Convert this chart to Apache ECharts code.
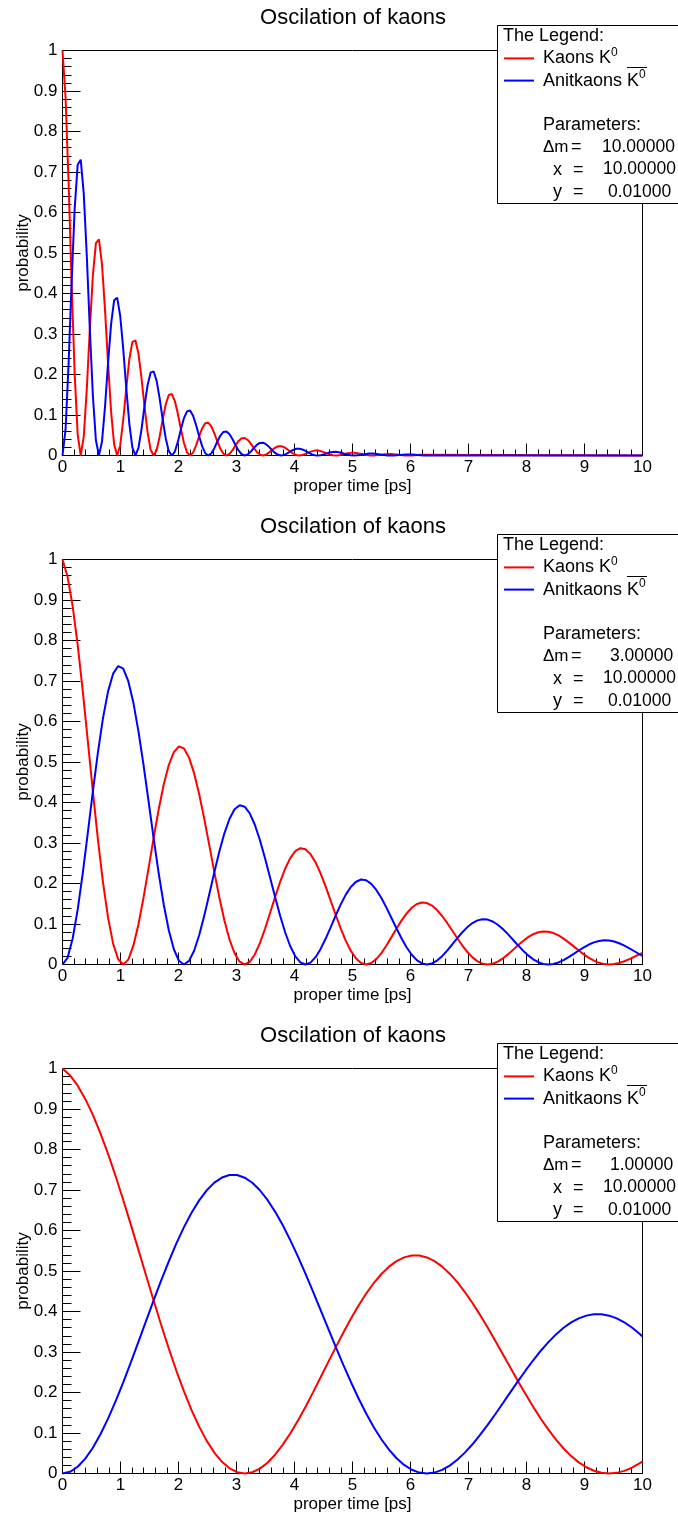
<!DOCTYPE html>
<html>
<head>
<meta charset="utf-8">
<script src="https://cdn.jsdelivr.net/npm/echarts@6/dist/echarts.min.js"></script>
<style>
    html, body { margin: 0; padding: 0; background: #fff; }
    #chart { width: 678px; height: 1513px; }
</style>
</head>
<body>
<div id="chart"></div>
<script>
// panel 1: delta m = 10
var timeA = [0, 0.0524, 0.1047, 0.1571, 0.2094, 0.2618, 0.3142, 0.3665, 0.4189, 0.4712, 0.5236, 0.5760,
    0.6283, 0.6807, 0.7330, 0.7854, 0.8378, 0.8901, 0.9425, 0.9948, 1.0472, 1.0996, 1.1519, 1.2043,
    1.2566, 1.3090, 1.3614, 1.4137, 1.4661, 1.5184, 1.5708, 1.6232, 1.6755, 1.7279, 1.7802, 1.8326,
    1.8850, 1.9373, 1.9897, 2.0420, 2.0944, 2.1468, 2.1991, 2.2515, 2.3038, 2.3562, 2.4086, 2.4609,
    2.5133, 2.5656, 2.6180, 2.6704, 2.7227, 2.7751, 2.8274, 2.8798, 2.9322, 2.9845, 3.0369, 3.0892,
    3.1416, 3.1940, 3.2463, 3.2987, 3.3510, 3.4034, 3.4558, 3.5081, 3.5605, 3.6128, 3.6652, 3.7176,
    3.7699, 3.8223, 3.8746, 3.9270, 3.9794, 4.0317, 4.0841, 4.1364, 4.1888, 4.2412, 4.2935, 4.3459,
    4.3982, 4.4506, 4.5029, 4.5553, 4.6077, 4.6600, 4.7124, 4.7647, 4.8171, 4.8695, 4.9218, 4.9742,
    5.0265, 5.0789, 5.1313, 5.1836, 5.2360, 5.2883, 5.3407, 5.3931, 5.4454, 5.4978, 5.5501, 5.6025,
    5.6549, 5.7072, 5.7596, 5.8119, 5.8643, 5.9167, 5.9690, 6.0214, 6.0737, 6.1261, 6.1785, 6.2308,
    6.2832, 10];
var kaonA = [1, 0.8854, 0.6754, 0.4273, 0.2028, 0.0516, 0, 0.0464, 0.1644, 0.3121, 0.4443, 0.5245,
    0.5335, 0.4724, 0.3603, 0.2280, 0.1082, 0.0275, 0, 0.0248, 0.0877, 0.1665, 0.2370, 0.2798,
    0.2846, 0.2520, 0.1922, 0.1216, 0.0577, 0.0147, 0, 0.0132, 0.0468, 0.0888, 0.1264, 0.1493,
    0.1518, 0.1344, 0.1026, 0.0649, 0.0308, 0.0078, 0, 0.0071, 0.0250, 0.0474, 0.0675, 0.0796,
    0.0810, 0.0717, 0.0547, 0.0346, 0.0164, 0.0042, 0, 0.0038, 0.0133, 0.0253, 0.0360, 0.0425,
    0.0432, 0.0383, 0.0292, 0.0185, 0.0088, 0.0022, 0, 0.0020, 0.0071, 0.0135, 0.0192, 0.0227,
    0.0231, 0.0204, 0.0156, 0.0099, 0.0047, 0.0012, 0, 0.0011, 0.0038, 0.0072, 0.0102, 0.0121,
    0.0123, 0.0109, 0.0083, 0.0053, 0.0025, 0.0006, 0, 0.0006, 0.0020, 0.0038, 0.0055, 0.0065,
    0.0066, 0.0058, 0.0044, 0.0028, 0.0013, 0.0003, 0, 0.0003, 0.0011, 0.0020, 0.0029, 0.0034,
    0.0035, 0.0031, 0.0024, 0.0015, 0.0007, 0.0002, 0, 0.0002, 0.0006, 0.0011, 0.0016, 0.0018,
    0.0019, 0];
var antiA = [0, 0.0636, 0.2251, 0.4273, 0.6083, 0.7181, 0.7304, 0.6467, 0.4933, 0.3121, 0.1481, 0.0377,
    0, 0.0339, 0.1201, 0.2280, 0.3245, 0.3831, 0.3897, 0.3450, 0.2632, 0.1665, 0.0790, 0.0201,
    0, 0.0181, 0.0641, 0.1216, 0.1731, 0.2044, 0.2079, 0.1841, 0.1404, 0.0888, 0.0421, 0.0107,
    0, 0.0097, 0.0342, 0.0649, 0.0924, 0.1090, 0.1109, 0.0982, 0.0749, 0.0474, 0.0225, 0.0057,
    0, 0.0051, 0.0182, 0.0346, 0.0493, 0.0582, 0.0592, 0.0524, 0.0400, 0.0253, 0.0120, 0.0031,
    0, 0.0027, 0.0097, 0.0185, 0.0263, 0.0310, 0.0316, 0.0279, 0.0213, 0.0135, 0.0064, 0.0016,
    0, 0.0015, 0.0052, 0.0099, 0.0140, 0.0166, 0.0168, 0.0149, 0.0114, 0.0072, 0.0034, 0.0009,
    0, 0.0008, 0.0028, 0.0053, 0.0075, 0.0088, 0.0090, 0.0080, 0.0061, 0.0038, 0.0018, 0.0005,
    0, 0.0004, 0.0015, 0.0028, 0.0040, 0.0047, 0.0048, 0.0042, 0.0032, 0.0020, 0.0010, 0.0002,
    0, 0.0002, 0.0008, 0.0015, 0.0021, 0.0025, 0.0026, 0.0023, 0.0017, 0.0011, 0.0005, 0.0001,
    0, 0];

// panel 2: delta m = 3
var timeB = [0, 0.0873, 0.1745, 0.2618, 0.3491, 0.4363, 0.5236, 0.6109, 0.6981, 0.7854, 0.8727, 0.9599,
    1.0472, 1.1345, 1.2217, 1.3090, 1.3963, 1.4835, 1.5708, 1.6581, 1.7453, 1.8326, 1.9199, 2.0071,
    2.0944, 2.1817, 2.2689, 2.3562, 2.4435, 2.5307, 2.6180, 2.7053, 2.7925, 2.8798, 2.9671, 3.0543,
    3.1416, 3.2289, 3.3161, 3.4034, 3.4907, 3.5779, 3.6652, 3.7525, 3.8397, 3.9270, 4.0143, 4.1015,
    4.1888, 4.2761, 4.3633, 4.4506, 4.5379, 4.6251, 4.7124, 4.7997, 4.8869, 4.9742, 5.0615, 5.1487,
    5.2360, 5.3233, 5.4105, 5.4978, 5.5851, 5.6723, 5.7596, 5.8469, 5.9341, 6.0214, 6.1087, 6.1959,
    6.2832, 6.3705, 6.4577, 6.5450, 6.6323, 6.7195, 6.8068, 6.8941, 6.9813, 7.0686, 7.1559, 7.2431,
    7.3304, 7.4176, 7.5049, 7.5922, 7.6794, 7.7667, 7.8540, 7.9412, 8.0285, 8.1158, 8.2030, 8.2903,
    8.3776, 8.4648, 8.5521, 8.6394, 8.7266, 8.8139, 8.9012, 8.9884, 9.0757, 9.1630, 9.2502, 9.3375,
    9.4248, 9.5120, 9.5993, 9.6866, 9.7738, 9.8611, 9.9484, 10];
var kaonB = [1, 0.9576, 0.8854, 0.7891, 0.6754, 0.5522, 0.4273, 0.3085, 0.2028, 0.1157, 0.0516, 0.0128,
    0, 0.0121, 0.0464, 0.0989, 0.1644, 0.2375, 0.3121, 0.3827, 0.4443, 0.4926, 0.5245, 0.5383,
    0.5335, 0.5108, 0.4724, 0.4210, 0.3603, 0.2946, 0.2280, 0.1646, 0.1082, 0.0617, 0.0275, 0.0068,
    0, 0.0065, 0.0248, 0.0528, 0.0877, 0.1267, 0.1665, 0.2042, 0.2370, 0.2628, 0.2798, 0.2872,
    0.2846, 0.2725, 0.2520, 0.2246, 0.1922, 0.1572, 0.1216, 0.0878, 0.0577, 0.0329, 0.0147, 0.0036,
    0, 0.0035, 0.0132, 0.0281, 0.0468, 0.0676, 0.0888, 0.1089, 0.1264, 0.1402, 0.1493, 0.1532,
    0.1518, 0.1454, 0.1344, 0.1198, 0.1026, 0.0838, 0.0649, 0.0468, 0.0308, 0.0176, 0.0078, 0.0019,
    0, 0.0018, 0.0071, 0.0150, 0.0250, 0.0361, 0.0474, 0.0581, 0.0675, 0.0748, 0.0796, 0.0817,
    0.0810, 0.0776, 0.0717, 0.0639, 0.0547, 0.0447, 0.0346, 0.0250, 0.0164, 0.0094, 0.0042, 0.0010,
    0, 0.0010, 0.0038, 0.0080, 0.0133, 0.0192, 0.0253, 0.0287];
var antiB = [0, 0.0166, 0.0636, 0.1354, 0.2251, 0.3251, 0.4273, 0.5240, 0.6083, 0.6744, 0.7181, 0.7370,
    0.7304, 0.6994, 0.6467, 0.5763, 0.4933, 0.4033, 0.3121, 0.2254, 0.1481, 0.0845, 0.0377, 0.0093,
    0, 0.0089, 0.0339, 0.0722, 0.1201, 0.1734, 0.2280, 0.2796, 0.3245, 0.3598, 0.3831, 0.3932,
    0.3897, 0.3731, 0.3450, 0.3075, 0.2632, 0.2152, 0.1665, 0.1202, 0.0790, 0.0451, 0.0201, 0.0050,
    0, 0.0047, 0.0181, 0.0385, 0.0641, 0.0925, 0.1216, 0.1491, 0.1731, 0.1919, 0.2044, 0.2098,
    0.2079, 0.1991, 0.1841, 0.1640, 0.1404, 0.1148, 0.0888, 0.0641, 0.0421, 0.0241, 0.0107, 0.0027,
    0, 0.0025, 0.0097, 0.0206, 0.0342, 0.0494, 0.0649, 0.0796, 0.0924, 0.1024, 0.1090, 0.1119,
    0.1109, 0.1062, 0.0982, 0.0875, 0.0749, 0.0612, 0.0474, 0.0342, 0.0225, 0.0128, 0.0057, 0.0014,
    0, 0.0013, 0.0051, 0.0110, 0.0182, 0.0263, 0.0346, 0.0424, 0.0493, 0.0546, 0.0582, 0.0597,
    0.0592, 0.0567, 0.0524, 0.0467, 0.0400, 0.0327, 0.0253, 0.0211];

// panel 3: delta m = 1
var timeC = [0, 0.1309, 0.2618, 0.3927, 0.5236, 0.6545, 0.7854, 0.9163, 1.0472, 1.1781, 1.3090, 1.4399,
    1.5708, 1.7017, 1.8326, 1.9635, 2.0944, 2.2253, 2.3562, 2.4871, 2.6180, 2.7489, 2.8798, 3.0107,
    3.1416, 3.2725, 3.4034, 3.5343, 3.6652, 3.7961, 3.9270, 4.0579, 4.1888, 4.3197, 4.4506, 4.5815,
    4.7124, 4.8433, 4.9742, 5.1051, 5.2360, 5.3669, 5.4978, 5.6287, 5.7596, 5.8905, 6.0214, 6.1523,
    6.2832, 6.4141, 6.5450, 6.6759, 6.8068, 6.9377, 7.0686, 7.1995, 7.3304, 7.4613, 7.5922, 7.7231,
    7.8540, 7.9849, 8.1158, 8.2467, 8.3776, 8.5085, 8.6394, 8.7703, 8.9012, 9.0321, 9.1630, 9.2939,
    9.4248, 9.5557, 9.6866, 9.8175, 9.9484, 10];
var kaonC = [1, 0.9828, 0.9576, 0.9249, 0.8854, 0.8399, 0.7891, 0.7339, 0.6754, 0.6145, 0.5522, 0.4895,
    0.4273, 0.3667, 0.3085, 0.2536, 0.2028, 0.1566, 0.1157, 0.0806, 0.0516, 0.0289, 0.0128, 0.0032,
    0, 0.0031, 0.0121, 0.0267, 0.0464, 0.0707, 0.0989, 0.1304, 0.1644, 0.2004, 0.2375, 0.2749,
    0.3121, 0.3483, 0.3827, 0.4149, 0.4443, 0.4703, 0.4926, 0.5107, 0.5245, 0.5337, 0.5383, 0.5382,
    0.5335, 0.5243, 0.5108, 0.4934, 0.4724, 0.4481, 0.4210, 0.3916, 0.3603, 0.3278, 0.2946, 0.2611,
    0.2280, 0.1956, 0.1646, 0.1353, 0.1082, 0.0835, 0.0617, 0.0430, 0.0275, 0.0154, 0.0068, 0.0017,
    0, 0.0016, 0.0065, 0.0143, 0.0248, 0.0296];
var antiC = [0, 0.0042, 0.0166, 0.0366, 0.0636, 0.0968, 0.1354, 0.1785, 0.2251, 0.2744, 0.3251, 0.3764,
    0.4273, 0.4768, 0.5240, 0.5681, 0.6083, 0.6439, 0.6744, 0.6992, 0.7181, 0.7307, 0.7370, 0.7369,
    0.7304, 0.7178, 0.6994, 0.6755, 0.6467, 0.6134, 0.5763, 0.5361, 0.4933, 0.4488, 0.4033, 0.3575,
    0.3121, 0.2678, 0.2254, 0.1853, 0.1481, 0.1144, 0.0845, 0.0589, 0.0377, 0.0211, 0.0093, 0.0023,
    0, 0.0023, 0.0089, 0.0195, 0.0339, 0.0516, 0.0722, 0.0952, 0.1201, 0.1464, 0.1734, 0.2008,
    0.2280, 0.2544, 0.2796, 0.3031, 0.3245, 0.3435, 0.3598, 0.3730, 0.3831, 0.3898, 0.3932, 0.3931,
    0.3897, 0.3830, 0.3731, 0.3604, 0.3450, 0.3383];

// parameters shown in the legend boxes
var deltaM = ['10.00000', '3.00000', '1.00000'];
var xParam = '10.00000';
var yParam = '0.01000';

var FONT = '"Liberation Sans", Arial, Helvetica, sans-serif';

function pairs(t, v) {
    return t.map(function(x, i) { return [x, v[i]]; });
}

var panels = [
    { top: 50.5, time: timeA, kaon: kaonA, anti: antiA, dmLeft: 602 },
    { top: 559.5, time: timeB, kaon: kaonB, anti: antiB, dmLeft: 610 },
    { top: 1068.5, time: timeC, kaon: kaonC, anti: antiC, dmLeft: 610 }
];

var grids = [], xAxes = [], yAxes = [], series = [], graphics = [];

panels.forEach(function(p, i) {
    grids.push({
        left: 62.5, width: 580, top: p.top, height: 405,
        show: true, borderColor: '#000', borderWidth: 1, backgroundColor: 'transparent',
        outerBoundsMode: 'none'
    });
    xAxes.push({
        type: 'value', gridIndex: i, min: 0, max: 10, interval: 1,
        name: 'proper time [ps]', nameLocation: 'middle', nameGap: 22, nameMoveOverlap: false,
        nameTextStyle: { color: '#000', fontSize: 17, fontFamily: FONT },
        axisLine: { show: true, lineStyle: { color: '#000', width: 1 } },
        axisTick: { show: true, inside: true, length: 12, lineStyle: { color: '#000' } },
        minorTick: { show: true, splitNumber: 5, length: 6, lineStyle: { color: '#000' } },
        axisLabel: { color: '#000', fontSize: 17, fontFamily: FONT, margin: 3 },
        splitLine: { show: false }
    });
    yAxes.push({
        type: 'value', gridIndex: i, min: 0, max: 1, interval: 0.1,
        name: 'probability', nameLocation: 'middle', nameGap: 31, nameMoveOverlap: false,
        nameTextStyle: { color: '#000', fontSize: 17, fontFamily: FONT },
        axisLine: { show: true, lineStyle: { color: '#000', width: 1 } },
        axisTick: { show: true, inside: true, length: 18, lineStyle: { color: '#000' } },
        minorTick: { show: true, splitNumber: 5, length: 9, lineStyle: { color: '#000' } },
        axisLabel: { color: '#000', fontSize: 17, fontFamily: FONT, margin: 5 },
        splitLine: { show: false }
    });
    series.push({
        name: 'Kaons', type: 'line', xAxisIndex: i, yAxisIndex: i,
        data: pairs(p.time, p.kaon), symbol: 'none', clip: false,
        lineStyle: { color: '#ff0000', width: 2 }, itemStyle: { color: '#ff0000' }
    });
    series.push({
        name: 'Anitkaons', type: 'line', xAxisIndex: i, yAxisIndex: i,
        data: pairs(p.time, p.anti), symbol: 'none', clip: false,
        lineStyle: { color: '#0000ff', width: 2 }, itemStyle: { color: '#0000ff' }
    });

    // title
    graphics.push({
        type: 'text', x: 353, y: p.top - 32.5, z: 100,
        style: { text: 'Oscilation of kaons', fill: '#000', fontSize: 22, fontFamily: FONT,
            align: 'center', verticalAlign: 'middle' }
    });

    // legend box
    var by = p.top - 25.5;
    graphics.push({
        type: 'rect', z: 100,
        shape: { x: 497.5, y: by + 0.5, width: 200, height: 178 },
        style: { fill: '#fff', stroke: '#000', lineWidth: 1 }
    });
    function txt(t, x, yOff, size) {
        graphics.push({
            type: 'text', x: x, y: by + yOff, z: 101,
            style: { text: t, fill: '#000', fontSize: size || 18, fontFamily: FONT,
                align: 'left', verticalAlign: 'middle' }
        });
    }
    txt('The Legend:', 503, 11);
    graphics.push({ type: 'line', z: 101, shape: { x1: 504, y1: by + 33.4, x2: 534, y2: by + 33.4 },
        style: { stroke: '#ff0000', lineWidth: 2 } });
    graphics.push({ type: 'line', z: 101, shape: { x1: 504, y1: by + 55.6, x2: 534, y2: by + 55.6 },
        style: { stroke: '#0000ff', lineWidth: 2 } });
    var rich = {
        a: { fontSize: 18, fontFamily: FONT, fill: '#000', lineHeight: 24 },
        s: { fontSize: 12, fontFamily: FONT, fill: '#000', lineHeight: 14, verticalAlign: 'top' }
    };
    graphics.push({
        type: 'text', x: 543, y: by + 33.4, z: 101,
        style: { text: '{a|Kaons K}{s|0}', rich: rich, align: 'left', verticalAlign: 'middle' }
    });
    graphics.push({
        type: 'text', x: 543, y: by + 55.6, z: 101,
        style: { text: '{a|Anitkaons K}{s|0}', rich: rich, align: 'left', verticalAlign: 'middle' }
    });
    // bar over the anti kaon symbol
    graphics.push({ type: 'line', z: 101, shape: { x1: 627, y1: by + 42.5, x2: 647, y2: by + 42.5 },
        style: { stroke: '#000', lineWidth: 1 } });

    txt('Parameters:', 543, 100);
    txt('\u0394m', 543, 122.4, 17);
    txt('=', 571, 122.4);
    txt(deltaM[i], p.dmLeft, 122.4, 17.5);
    txt('x', 553, 144.6);
    txt('=', 573, 144.6);
    txt(xParam, 603, 144.6, 17.5);
    txt('y', 553, 166.9);
    txt('=', 573, 166.9);
    txt(yParam, 608, 166.9, 17.5);
});

var chart = echarts.init(document.getElementById('chart'), null, { renderer: 'canvas' });
chart.setOption({
    animation: false,
    backgroundColor: '#fff',
    grid: grids,
    xAxis: xAxes,
    yAxis: yAxes,
    series: series,
    graphic: graphics
});
</script>
</body>
</html>
